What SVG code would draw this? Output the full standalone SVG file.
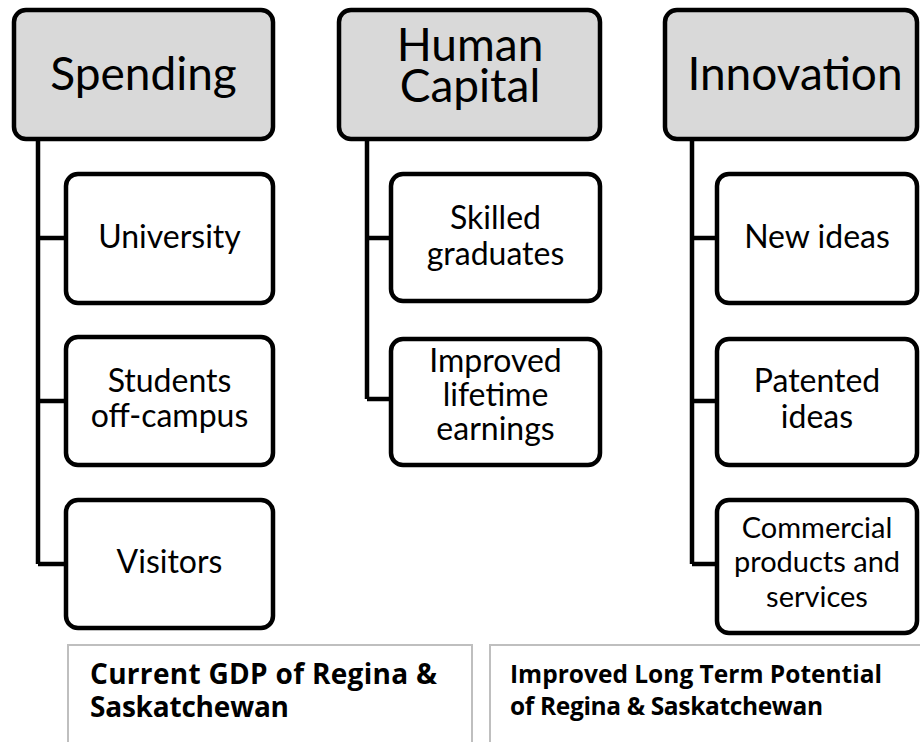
<svg xmlns="http://www.w3.org/2000/svg" width="920" height="742" viewBox="0 0 920 742">
<style>
.hdr{fill:#d9d9d9;stroke:#000;stroke-width:4.5}
.kid{fill:#fff;stroke:#000;stroke-width:4.5}
.note{fill:#fff;stroke:#bfbfbf;stroke-width:2}
.ht{font-family:Lato,"Liberation Sans",sans-serif;font-size:46px;fill:#000;text-anchor:middle}
.kt{font-family:Lato,"Liberation Sans",sans-serif;font-size:32px;fill:#000;text-anchor:middle}
.kt2{font-family:Lato,"Liberation Sans",sans-serif;font-size:29px;fill:#000;text-anchor:middle}
.nt{font-family:"Open Sans","Liberation Sans",sans-serif;font-weight:bold;fill:#000}
.big{font-size:28px}
.small{font-size:24.5px}
.con{fill:none;stroke:#000;stroke-width:4.5}
</style>
<rect width="920" height="742" fill="#fff"/>
<g id="connectors">
<path class="con" d="M38,141 V564 M38,238 H66 M38,401 H66 M38,564 H66"/>
<path class="con" d="M367,141 V399 M367,238 H391 M367,399 H391"/>
<path class="con" d="M692,141 V564 M692,238 H717 M692,401 H717 M692,564 H717"/>
</g>
<g id="spending">
<rect class="hdr" x="14" y="10" width="259" height="129" rx="12"/>
<text class="ht" x="143.5" y="90">Spending</text>
</g>
<g id="human-capital">
<rect class="hdr" x="339" y="10" width="261" height="129" rx="12"/>
<text class="ht" x="470" y="61">Human</text>
<text class="ht" x="470" y="102">Capital</text>
</g>
<g id="innovation">
<rect class="hdr" x="665" y="10" width="252" height="129" rx="12"/>
<text class="ht" x="795" y="90">Innovation</text>
</g>
<g id="university">
<rect class="kid" x="66" y="174" width="207" height="129" rx="12"/>
<text class="kt" x="169.5" y="248">University</text>
</g>
<g id="students">
<rect class="kid" x="66" y="337" width="207" height="128" rx="12"/>
<text class="kt" x="169.5" y="392">Students</text>
<text class="kt" x="169.5" y="427">off-campus</text>
</g>
<g id="visitors">
<rect class="kid" x="66" y="500" width="207" height="128" rx="12"/>
<text class="kt" x="169.5" y="573">Visitors</text>
</g>
<g id="skilled-graduates">
<rect class="kid" x="391" y="174" width="209" height="127" rx="12"/>
<text class="kt" x="495.5" y="229">Skilled</text>
<text class="kt" x="495.5" y="265">graduates</text>
</g>
<g id="lifetime-earnings">
<rect class="kid" x="391" y="339" width="209" height="126" rx="12"/>
<text class="kt" x="495.5" y="372">Improved</text>
<text class="kt" x="495.5" y="406">lifetime</text>
<text class="kt" x="495.5" y="440">earnings</text>
</g>
<g id="new-ideas">
<rect class="kid" x="717" y="174" width="200" height="129" rx="12"/>
<text class="kt" x="817" y="248">New ideas</text>
</g>
<g id="patented-ideas">
<rect class="kid" x="717" y="339" width="200" height="126" rx="12"/>
<text class="kt" x="817" y="392">Patented</text>
<text class="kt" x="817" y="428">ideas</text>
</g>
<g id="commercial">
<rect class="kid" x="717" y="500" width="200" height="133" rx="12"/>
<text class="kt2" x="817" y="538">Commercial</text>
<text class="kt2" x="817" y="572">products and</text>
<text class="kt2" x="817" y="607">services</text>
</g>
<g id="current-gdp">
<rect class="note" x="68" y="645" width="404" height="110"/>
<text class="nt big" x="90" y="684" textLength="347" lengthAdjust="spacing">Current GDP of Regina &amp;</text>
<text class="nt big" x="90" y="717" textLength="199" lengthAdjust="spacing">Saskatchewan</text>
</g>
<g id="long-term">
<rect class="note" x="490" y="645" width="450" height="110"/>
<text class="nt small" x="510" y="683" textLength="372" lengthAdjust="spacing">Improved Long Term Potential</text>
<text class="nt small" x="510" y="715" textLength="313" lengthAdjust="spacing">of Regina &amp; Saskatchewan</text>
</g>
</svg>
